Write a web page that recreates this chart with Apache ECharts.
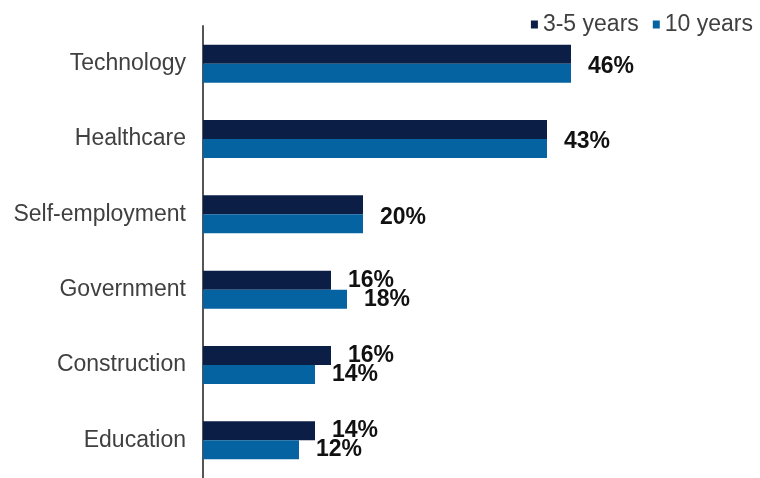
<!DOCTYPE html>
<html>
<head>
<meta charset="utf-8">
<style>
  html, body { margin: 0; padding: 0; background: #ffffff; }
  #chart { width: 760px; height: 478px; }
</style>
<script src="https://cdn.jsdelivr.net/npm/echarts@6/dist/echarts.min.js"></script>
</head>
<body>
<div id="chart"></div>
<script>
// Share of respondents by sector, two time horizons
const categories = ['Technology', 'Healthcare', 'Self-employment', 'Government', 'Construction', 'Education'];
const seriesNames = ['3-5 years', '10 years'];
const shortTerm = [46, 43, 20, 16, 16, 14];
const longTerm = [46, 43, 20, 18, 14, 12];

const DARK = '#0b1f46';
const BLUE = '#0663a1';
const BAR_W = 19;

const labelBase = {
  show: true,
  position: 'right',
  distance: 17,
  formatter: '{c}%',
  fontFamily: 'Liberation Sans',
  fontWeight: 'bold',
  fontSize: 23,
  color: '#111111'
};

// When both horizons share a value, one label sits between the pair of bars.
const shortData = shortTerm.map((v, i) => ({
  value: v,
  label: shortTerm[i] === longTerm[i]
    ? Object.assign({}, labelBase, { offset: [0, BAR_W / 2 + 3] })
    : labelBase
}));
const longData = longTerm.map((v, i) => ({
  value: v,
  label: shortTerm[i] === longTerm[i] ? { show: false } : labelBase
}));

const chart = echarts.init(document.getElementById('chart'), null, { renderer: 'canvas' });
chart.setOption({
  animation: false,
  backgroundColor: '#ffffff',
  legend: {
    data: seriesNames,
    right: 2,
    top: 8,
    icon: 'rect',
    itemWidth: 7,
    itemHeight: 8,
    itemGap: 14,
    textStyle: { fontFamily: 'Liberation Sans', fontSize: 23, color: '#404040' }
  },
  grid: { left: 203, right: 77, top: 26, height: 453 },
  xAxis: { type: 'value', min: 0, max: 60, show: false },
  yAxis: {
    type: 'category',
    data: categories,
    inverse: true,
    axisLine: { show: true, lineStyle: { color: '#555555', width: 2 } },
    axisTick: { show: false },
    splitLine: { show: false },
    axisLabel: {
      margin: 17,
      fontFamily: 'Liberation Sans',
      fontSize: 23,
      color: '#404040'
    }
  },
  series: [
    {
      name: seriesNames[0],
      type: 'bar',
      data: shortData,
      barWidth: BAR_W,
      barGap: '0%',
      itemStyle: { color: DARK }
    },
    {
      name: seriesNames[1],
      type: 'bar',
      data: longData,
      barWidth: BAR_W,
      barGap: '0%',
      itemStyle: { color: BLUE }
    }
  ]
});
</script>
</body>
</html>
